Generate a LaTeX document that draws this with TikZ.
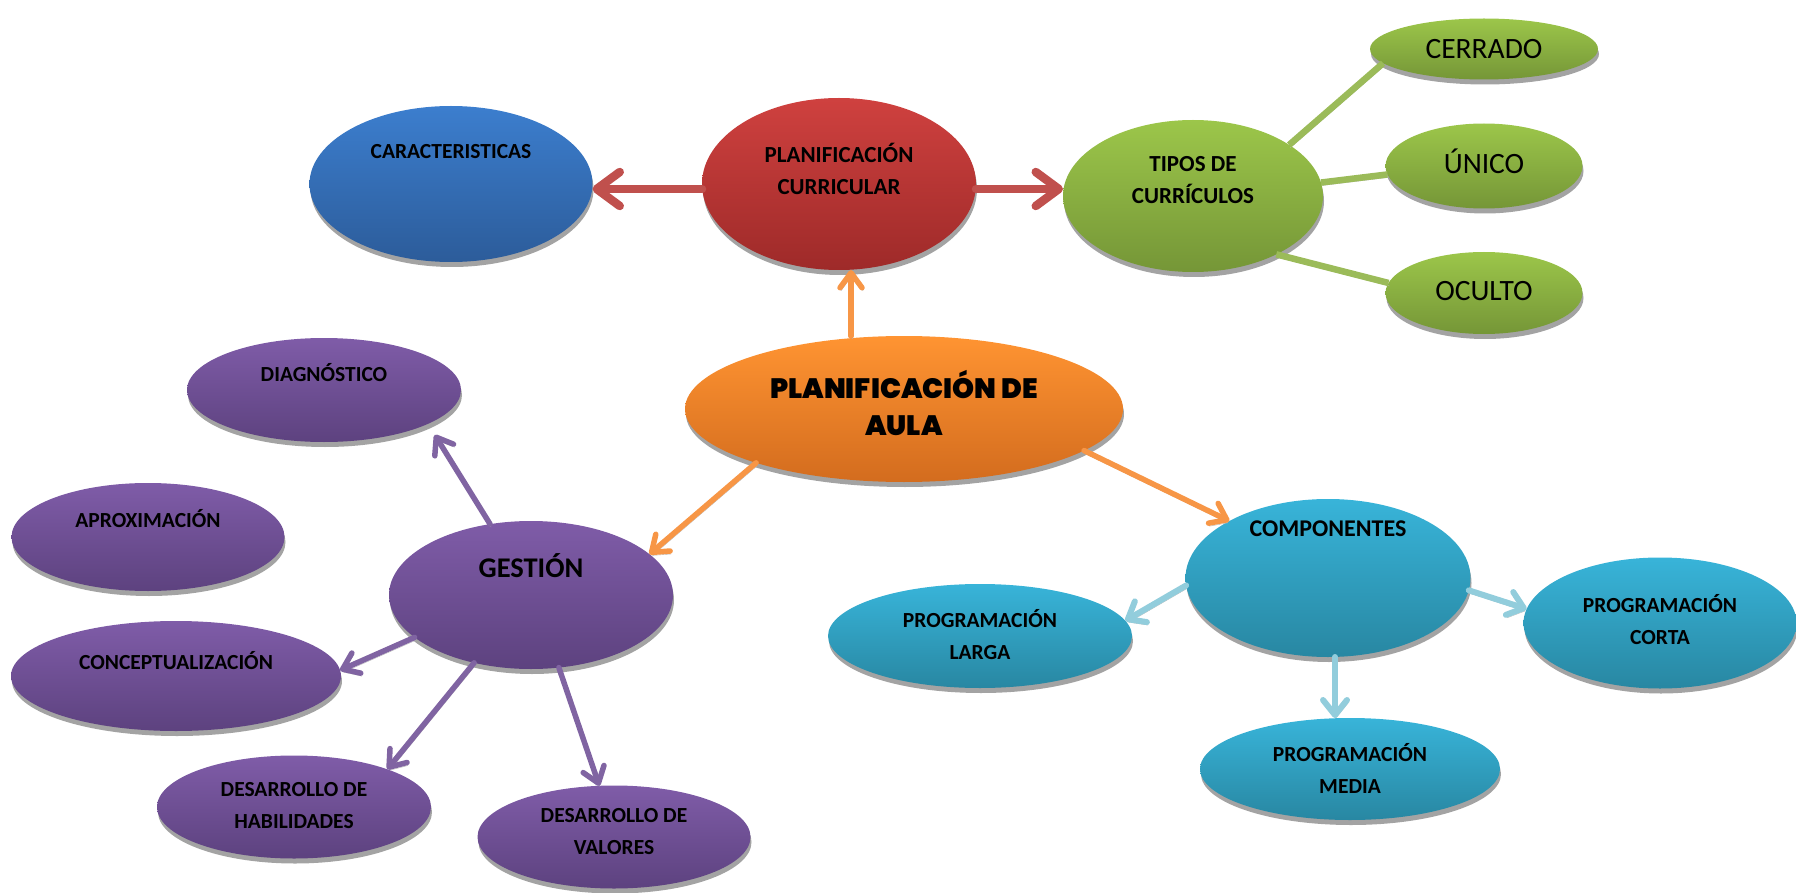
\documentclass[tikz,border=0pt]{standalone}
\usepackage{fontspec}
\setmainfont{Carlito}
\IfFontExistsTF{Poppins Black}{\newfontfamily\heavy{Poppins Black}\let\heavyb\relax}{%
  \IfFontExistsTF{Poppins ExtraBold}{\newfontfamily\heavy{Poppins ExtraBold}\let\heavyb\relax}{%
    \newfontfamily\heavy{Poppins}\let\heavyb\bfseries}}
\usetikzlibrary{shapes.geometric,arrows.meta,shadows}
\definecolor{blueT}{RGB}{60,126,206}
\definecolor{blueB}{RGB}{44,92,154}
\definecolor{redT}{RGB}{207,65,63}
\definecolor{redB}{RGB}{158,42,41}
\definecolor{greenT}{RGB}{156,198,74}
\definecolor{greenB}{RGB}{117,150,55}
\definecolor{purpT}{RGB}{127,92,168}
\definecolor{purpB}{RGB}{93,66,127}
\definecolor{cyanT}{RGB}{56,180,217}
\definecolor{cyanB}{RGB}{40,135,162}
\definecolor{orT}{RGB}{255,148,50}
\definecolor{orB}{RGB}{211,108,30}
\definecolor{arRed}{RGB}{192,80,77}
\definecolor{arOr}{RGB}{247,150,70}
\definecolor{arPurp}{RGB}{128,100,162}
\definecolor{arCyan}{RGB}{146,205,220}
\definecolor{arGreen}{RGB}{155,187,89}
\begin{document}
\begin{tikzpicture}[x=1pt,y=-1pt,
  ell/.style={ellipse, draw=none, inner sep=0pt, outer sep=0pt,
    drop shadow={shadow xshift=1pt, shadow yshift=-5pt, fill=black!36, opacity=1}},
  blueN/.style={ell, top color=blueT, bottom color=blueB},
  redN/.style={ell, top color=redT, bottom color=redB},
  greenN/.style={ell, top color=greenT, bottom color=greenB},
  purpN/.style={ell, top color=purpT, bottom color=purpB},
  cyanN/.style={ell, top color=cyanT, bottom color=cyanB},
  orN/.style={ell, top color=orT, bottom color=orB},
  tx/.style={font=\bfseries\fontsize{21.5}{32}\selectfont, align=center, text=black, inner sep=0pt},
  txb/.style={tx, font=\bfseries\fontsize{23}{32}\selectfont},
  txr/.style={font=\fontsize{29.5}{32}\selectfont, align=center, text=black, inner sep=0pt},
  conn/.style={line cap=round, line join=round,
    preaction={draw=black!30, transform canvas={shift={(1pt,-3pt)}}}},
  redarr/.style={conn, draw=arRed, line width=8.5pt, -{Straight Barb[round, length=23pt, width=34pt]}},
  orarr/.style={conn, draw=arOr, line width=5.5pt, -{Straight Barb[round, length=15pt, width=22pt]}},
  purarr/.style={conn, draw=arPurp, line width=5.5pt, -{Straight Barb[round, length=15pt, width=22pt]}},
  cyarr/.style={conn, draw=arCyan, line width=6pt, -{Straight Barb[round, length=15pt, width=24pt]}},
  grline/.style={conn, draw=arGreen, line width=6.5pt, line cap=butt}
]
\useasboundingbox (0,0) rectangle (1796,893);

% nodes
\node[blueN, minimum width=283pt, minimum height=156pt,
  label={[tx, yshift=32pt]center:CARACTERISTICAS}] (car) at (451,184) {};
\node[redN, minimum width=274pt, minimum height=172pt,
  label={[txb, yshift=15pt]center:PLANIFICACIÓN\\CURRICULAR}] (pc) at (839,184) {};
\node[greenN, minimum width=260pt, minimum height=152pt,
  label={[txb, yshift=16pt]center:TIPOS DE\\CURRÍCULOS}] (tip) at (1193,196) {};
\node[greenN, minimum width=228pt, minimum height=61pt,
  label={[txr, yshift=0pt]center:CERRADO}] (cer) at (1484,49) {};
\node[greenN, minimum width=197pt, minimum height=85pt,
  label={[txr, yshift=5pt]center:ÚNICO}] (uni) at (1484,166) {};
\node[greenN, minimum width=197pt, minimum height=82pt,
  label={[txr, yshift=2pt]center:OCULTO}] (ocu) at (1484,293) {};
\node[orN, minimum width=438pt, minimum height=146pt,
  label={[tx, font=\heavy\heavyb\fontsize{28}{37}\selectfont, yshift=6pt]center:PLANIFICACIÓN DE\\AULA}] (aula) at (904,409) {};
\node[purpN, minimum width=274pt, minimum height=104pt,
  label={[tx, yshift=17pt]center:DIAGNÓSTICO}] (diag) at (324,390) {};
\node[purpN, minimum width=273pt, minimum height=108pt,
  label={[tx, yshift=18pt]center:APROXIMACIÓN}] (aprox) at (148,537) {};
\node[purpN, minimum width=284pt, minimum height=148pt,
  label={[tx, font=\bfseries\fontsize{28.5}{32}\selectfont, yshift=29pt]center:GESTIÓN}] (ges) at (531,595) {};
\node[purpN, minimum width=330pt, minimum height=110pt,
  label={[tx, yshift=15pt]center:CONCEPTUALIZACIÓN}] (conc) at (176,676) {};
\node[purpN, minimum width=274pt, minimum height=103pt,
  label={[tx, yshift=1pt]center:DESARROLLO DE\\HABILIDADES}] (hab) at (294,807) {};
\node[purpN, minimum width=273pt, minimum height=103pt,
  label={[tx, yshift=5pt]center:DESARROLLO DE\\VALORES}] (val) at (614,837) {};
\node[cyanN, minimum width=285pt, minimum height=158pt,
  label={[tx, font=\bfseries\fontsize{24}{32}\selectfont, yshift=49pt]center:COMPONENTES}] (comp) at (1328,578) {};
\node[cyanN, minimum width=304pt, minimum height=104pt,
  label={[tx, yshift=1pt]center:PROGRAMACIÓN\\LARGA}] (lar) at (980,636) {};
\node[cyanN, minimum width=273pt, minimum height=131pt,
  label={[tx, yshift=3pt]center:PROGRAMACIÓN\\CORTA}] (cor) at (1660,623) {};
\node[cyanN, minimum width=300pt, minimum height=102pt,
  label={[tx, yshift=1pt]center:PROGRAMACIÓN\\MEDIA}] (med) at (1350,769) {};

% connectors
\draw[redarr] (pc.west |- 0,189) -- (car.east |- 0,189);
\draw[redarr] (pc.east |- 0,189) -- (tip.west |- 0,189);
\draw[orarr] ([xshift=12pt]pc.south |- aula.north) -- ([xshift=12pt]pc.south);
\draw[orarr] (aula.200) -- (ges.19);
\draw[orarr] (aula.-13) -- (comp.150);
\draw[grline] (tip.28) -- (cer.188);
\draw[grline] (tip.6) -- (uni.185);
\draw[grline] (tip.-35) -- (ocu.174);
\draw[purarr] (ges.120) -- ([xshift=17pt,yshift=-7pt]diag.-22);
\draw[purarr] (ges.200) -- (conc.2);
\draw[purarr] (ges.230) -- (hab.22);
\draw[purarr] (ges.291) -- (val.106);
\draw[cyarr] (comp.183) -- (lar.6);
\draw[cyarr] (comp.-5) -- (cor.174);
\draw[cyarr] ([xshift=7pt]comp.south) -- ([xshift=7pt]comp.south |- med.north);
\end{tikzpicture}
\end{document}
